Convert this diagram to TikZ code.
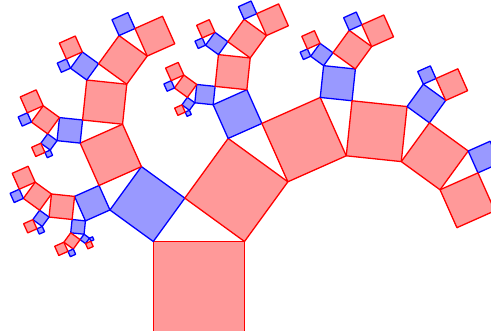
\documentclass[tikz,border=0pt]{standalone}
\begin{document}
\begin{tikzpicture}[x=1pt,y=1pt,
  redsq/.style={draw=red, fill=red!40, line width=1.3pt, line join=round},
  bluesq/.style={draw=blue, fill=blue!40, line width=1.3pt, line join=round}]
\useasboundingbox (0,0) rectangle (491,331);
\clip (0,0) rectangle (491,331);
\newcommand\pyt[3]{%
  \path[#2] (0,0) rectangle (1,1);
  \ifnum#1>0
    \begin{scope}[shift={(0,1)},rotate=#3,scale={cos(#3)}]
      \pyt{\numexpr#1-1\relax}{bluesq}{60}
    \end{scope}
    \begin{scope}[shift={({cos(#3)^2},{1+cos(#3)*sin(#3)})},rotate={#3-90},scale={sin(#3)}]
      \pyt{\numexpr#1-1\relax}{redsq}{60}
    \end{scope}
  \fi
}
\begin{scope}[shift={(153.3,-1.7)},scale=91.2]
  \pyt{5}{redsq}{54}
\end{scope}
\end{tikzpicture}
\end{document}
